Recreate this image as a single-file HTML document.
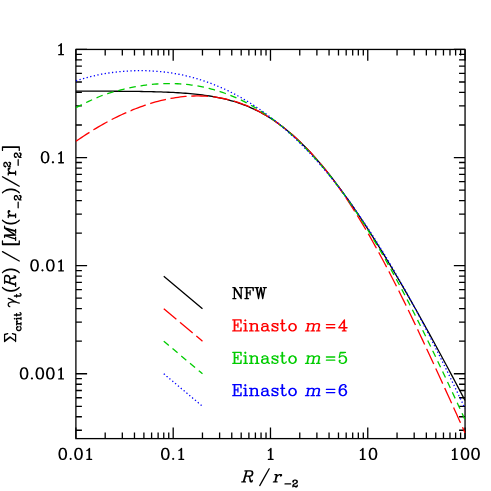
<!DOCTYPE html>
<html><head><meta charset="utf-8"><title>plot</title>
<style>
html,body{margin:0;padding:0;background:#fff;}
body{width:491px;height:491px;overflow:hidden;font-family:"Liberation Serif",serif;}
svg{display:block;}
.t{fill:none;stroke-linecap:round;stroke-linejoin:round;}
</style></head><body>
<svg width="491" height="491" viewBox="0 0 491 491">
<rect width="491" height="491" fill="#fff"/>
<defs><clipPath id="c"><rect x="75.30" y="48.85" width="390.35" height="390.36"/></clipPath></defs>
<path d="M75.90,438.61v-11.20M75.90,49.45v11.20M105.19,438.61v-6.00M105.19,49.45v6.00M122.32,438.61v-6.00M122.32,49.45v6.00M134.47,438.61v-6.00M134.47,49.45v6.00M143.90,438.61v-6.00M143.90,49.45v6.00M151.60,438.61v-6.00M151.60,49.45v6.00M158.12,438.61v-6.00M158.12,49.45v6.00M163.76,438.61v-6.00M163.76,49.45v6.00M168.74,438.61v-6.00M168.74,49.45v6.00M173.19,438.61v-11.20M173.19,49.45v11.20M202.47,438.61v-6.00M202.47,49.45v6.00M219.61,438.61v-6.00M219.61,49.45v6.00M231.76,438.61v-6.00M231.76,49.45v6.00M241.19,438.61v-6.00M241.19,49.45v6.00M248.89,438.61v-6.00M248.89,49.45v6.00M255.40,438.61v-6.00M255.40,49.45v6.00M261.05,438.61v-6.00M261.05,49.45v6.00M266.02,438.61v-6.00M266.02,49.45v6.00M270.48,438.61v-11.20M270.48,49.45v11.20M299.76,438.61v-6.00M299.76,49.45v6.00M316.89,438.61v-6.00M316.89,49.45v6.00M329.05,438.61v-6.00M329.05,49.45v6.00M338.48,438.61v-6.00M338.48,49.45v6.00M346.18,438.61v-6.00M346.18,49.45v6.00M352.69,438.61v-6.00M352.69,49.45v6.00M358.33,438.61v-6.00M358.33,49.45v6.00M363.31,438.61v-6.00M363.31,49.45v6.00M367.76,438.61v-11.20M367.76,49.45v11.20M397.05,438.61v-6.00M397.05,49.45v6.00M414.18,438.61v-6.00M414.18,49.45v6.00M426.34,438.61v-6.00M426.34,49.45v6.00M435.76,438.61v-6.00M435.76,49.45v6.00M443.47,438.61v-6.00M443.47,49.45v6.00M449.98,438.61v-6.00M449.98,49.45v6.00M455.62,438.61v-6.00M455.62,49.45v6.00M460.60,438.61v-6.00M460.60,49.45v6.00M465.05,438.61v-11.20M465.05,49.45v11.20M75.90,430.27h6.00M465.05,430.27h-6.00M75.90,416.77h6.00M465.05,416.77h-6.00M75.90,406.29h6.00M465.05,406.29h-6.00M75.90,397.73h6.00M465.05,397.73h-6.00M75.90,390.49h6.00M465.05,390.49h-6.00M75.90,384.23h6.00M465.05,384.23h-6.00M75.90,378.70h6.00M465.05,378.70h-6.00M75.90,373.75h11.20M465.05,373.75h-11.20M75.90,341.21h6.00M465.05,341.21h-6.00M75.90,322.17h6.00M465.05,322.17h-6.00M75.90,308.67h6.00M465.05,308.67h-6.00M75.90,298.19h6.00M465.05,298.19h-6.00M75.90,289.63h6.00M465.05,289.63h-6.00M75.90,282.39h6.00M465.05,282.39h-6.00M75.90,276.13h6.00M465.05,276.13h-6.00M75.90,270.60h6.00M465.05,270.60h-6.00M75.90,265.65h11.20M465.05,265.65h-11.20M75.90,233.11h6.00M465.05,233.11h-6.00M75.90,214.07h6.00M465.05,214.07h-6.00M75.90,200.57h6.00M465.05,200.57h-6.00M75.90,190.09h6.00M465.05,190.09h-6.00M75.90,181.53h6.00M465.05,181.53h-6.00M75.90,174.29h6.00M465.05,174.29h-6.00M75.90,168.03h6.00M465.05,168.03h-6.00M75.90,162.50h6.00M465.05,162.50h-6.00M75.90,157.55h11.20M465.05,157.55h-11.20M75.90,125.01h6.00M465.05,125.01h-6.00M75.90,105.97h6.00M465.05,105.97h-6.00M75.90,92.47h6.00M465.05,92.47h-6.00M75.90,81.99h6.00M465.05,81.99h-6.00M75.90,73.43h6.00M465.05,73.43h-6.00M75.90,66.19h6.00M465.05,66.19h-6.00M75.90,59.93h6.00M465.05,59.93h-6.00M75.90,54.40h6.00M465.05,54.40h-6.00M75.90,49.45h11.20M465.05,49.45h-11.20" fill="none" stroke="#000" stroke-width="1.30"/>
<rect x="75.90" y="49.45" width="389.15" height="389.16" fill="none" stroke="#000" stroke-width="1.30"/>
<g clip-path="url(#c)" fill="none" stroke-width="1.30">
<path d="M75.90,91.11 L78.33,91.11 L80.76,91.12 L83.20,91.12 L85.63,91.12 L88.06,91.13 L90.49,91.13 L92.93,91.14 L95.36,91.15 L97.79,91.15 L100.22,91.16 L102.65,91.17 L105.09,91.18 L107.52,91.19 L109.95,91.20 L112.38,91.21 L114.81,91.23 L117.25,91.24 L119.68,91.26 L122.11,91.28 L124.54,91.30 L126.98,91.32 L129.41,91.34 L131.84,91.37 L134.27,91.40 L136.70,91.43 L139.14,91.46 L141.57,91.50 L144.00,91.54 L146.43,91.59 L148.87,91.64 L151.30,91.69 L153.73,91.75 L156.16,91.82 L158.59,91.89 L161.03,91.97 L163.46,92.05 L165.89,92.14 L168.32,92.24 L170.76,92.35 L173.19,92.47 L175.62,92.60 L178.05,92.74 L180.48,92.89 L182.92,93.05 L185.35,93.23 L187.78,93.42 L190.21,93.63 L192.65,93.86 L195.08,94.10 L197.51,94.36 L199.94,94.64 L202.37,94.94 L204.81,95.27 L207.24,95.62 L209.67,95.99 L212.10,96.39 L214.53,96.82 L216.97,97.28 L219.40,97.77 L221.83,98.30 L224.26,98.86 L226.70,99.45 L229.13,100.09 L231.56,100.76 L233.99,101.47 L236.42,102.23 L238.86,103.04 L241.29,103.88 L243.72,104.78 L246.15,105.73 L248.59,106.73 L251.02,107.78 L253.45,108.88 L255.88,110.04 L258.31,111.26 L260.75,112.53 L263.18,113.87 L265.61,115.26 L268.04,116.72 L270.48,118.24 L272.91,119.82 L275.34,121.46 L277.77,123.17 L280.20,124.95 L282.64,126.79 L285.07,128.69 L287.50,130.66 L289.93,132.70 L292.36,134.80 L294.80,136.96 L297.23,139.20 L299.66,141.49 L302.09,143.85 L304.53,146.28 L306.96,148.77 L309.39,151.32 L311.82,153.94 L314.25,156.61 L316.69,159.35 L319.12,162.14 L321.55,165.00 L323.98,167.91 L326.42,170.88 L328.85,173.90 L331.28,176.98 L333.71,180.11 L336.14,183.30 L338.58,186.53 L341.01,189.82 L343.44,193.15 L345.87,196.53 L348.31,199.96 L350.74,203.43 L353.17,206.95 L355.60,210.51 L358.03,214.11 L360.47,217.76 L362.90,221.44 L365.33,225.16 L367.76,228.92 L370.19,232.72 L372.63,236.55 L375.06,240.41 L377.49,244.31 L379.92,248.24 L382.36,252.20 L384.79,256.20 L387.22,260.22 L389.65,264.27 L392.08,268.35 L394.52,272.46 L396.95,276.59 L399.38,280.75 L401.81,284.93 L404.25,289.14 L406.68,293.37 L409.11,297.63 L411.54,301.90 L413.97,306.20 L416.41,310.52 L418.84,314.86 L421.27,319.22 L423.70,323.59 L426.13,327.99 L428.57,332.40 L431.00,336.83 L433.43,341.28 L435.86,345.75 L438.30,350.23 L440.73,354.72 L443.16,359.24 L445.59,363.76 L448.02,368.30 L450.46,372.86 L452.89,377.43 L455.32,382.01 L457.75,386.60 L460.19,391.21 L462.62,395.83 L465.05,400.46" stroke="#000"/>
<path d="M75.90,141.30L76.51,140.89L78.94,139.23L81.37,137.60L83.80,136.00L86.24,134.41L88.67,132.85L89.47,132.35M93.44,129.87L93.53,129.81L95.97,128.33L98.40,126.87L100.83,125.44L103.26,124.06L105.69,122.73L107.52,121.75M111.67,119.58L111.77,119.52L114.21,118.29L116.64,117.09L119.07,115.91L121.50,114.76L123.94,113.64L126.32,112.58M130.61,110.73L130.62,110.73L133.06,109.72L135.49,108.75L137.92,107.81L140.35,106.90L142.79,106.03L145.22,105.19L145.79,104.99M150.24,103.55L150.69,103.41L153.12,102.68L155.55,101.98L157.99,101.32L160.42,100.70L162.85,100.11L165.28,99.56L165.92,99.41M170.50,98.50L170.76,98.45L173.19,98.02L175.62,97.63L178.05,97.27L180.48,96.96L182.92,96.69L185.35,96.46L186.57,96.36M191.27,96.08L191.43,96.07L193.86,95.98L196.29,95.94L198.73,95.94L201.16,95.99L203.59,96.08L206.02,96.22L208.00,96.36M212.80,96.84L213.32,96.90L215.75,97.22L218.18,97.59L220.62,98.01L223.05,98.48L225.48,98.99L227.91,99.56L229.25,99.89M233.89,101.16L233.99,101.19L236.42,101.94L238.86,102.73L241.29,103.59L243.72,104.49L246.15,105.45L248.59,106.47L249.59,106.91M253.97,108.91L254.06,108.96L256.49,110.15L258.92,111.41L261.35,112.72L263.79,114.09L266.22,115.52L268.60,116.98M272.65,119.58L272.91,119.75L275.34,121.41L277.77,123.12L280.20,124.90L282.64,126.74L285.07,128.65L286.09,129.48M289.80,132.53L289.93,132.65L292.36,134.74L294.80,136.90L297.23,139.13L299.66,141.42L302.09,143.78L302.10,143.79M305.49,147.19L305.74,147.45L308.17,149.97L310.61,152.56L313.04,155.22L315.47,157.94L316.79,159.44M319.90,163.09L320.33,163.60L322.77,166.53L325.20,169.53L327.63,172.59L330.06,175.73L330.33,176.07M333.22,179.89L333.71,180.55L336.14,183.85L338.58,187.23L341.01,190.67L342.91,193.42M345.61,197.37L345.87,197.75L348.31,201.40L350.74,205.11L353.17,208.88L354.70,211.31M357.24,215.36L357.43,215.65L359.86,219.61L362.29,223.63L364.72,227.71L365.84,229.60M368.25,233.73L368.37,233.94L370.80,238.18L373.23,242.47L375.67,246.82L376.43,248.20M378.73,252.39L379.32,253.46L381.75,257.95L384.18,262.49L386.61,267.09L386.64,267.14M388.87,271.41L389.04,271.74L391.48,276.44L393.91,281.18L396.34,285.97L396.51,286.31M398.67,290.61L398.77,290.81L401.21,295.68L403.64,300.60L406.07,305.56L406.10,305.61M408.21,309.94L408.50,310.55L410.93,315.58L413.37,320.64L415.46,325.02M417.53,329.37L417.62,329.57L420.05,334.71L422.49,339.88L424.65,344.50M426.69,348.86L426.74,348.98L429.18,354.21L431.61,359.46L433.72,364.03M435.74,368.41L435.86,368.68L438.30,373.98L440.73,379.29L442.70,383.61M444.70,387.99L444.98,388.61L447.42,393.95L449.85,399.29L451.63,403.21M453.61,407.59L454.11,408.67L456.54,414.04L458.97,419.41L460.51,422.82M462.49,427.21L462.62,427.48L465.05,432.87" stroke="#ff0000"/>
<path d="M75.90,107.63L76.51,107.31L78.94,106.07L81.37,104.86L81.79,104.65M86.14,102.54L86.24,102.49L88.67,101.35L91.10,100.23L92.12,99.77M96.54,97.81L96.57,97.80L99.01,96.76L101.44,95.75L102.64,95.30M107.23,93.79L107.52,93.70L109.95,92.95L112.38,92.22L113.55,91.88M118.20,90.59L118.46,90.52L120.90,89.89L123.33,89.29L124.60,88.98M129.32,87.92L129.41,87.90L131.84,87.40L134.27,86.92L135.79,86.65M140.55,85.84L140.96,85.78L143.39,85.42L145.83,85.09L147.09,84.93M151.89,84.40L151.91,84.40L154.34,84.18L156.77,83.99L158.47,83.88M163.29,83.65L163.46,83.65L165.89,83.58L168.32,83.55L169.89,83.56M174.72,83.64L175.01,83.65L177.44,83.75L179.88,83.89L181.31,83.99M186.12,84.41L186.56,84.45L189.00,84.72L191.43,85.03L192.68,85.20M197.45,85.96L197.51,85.97L199.94,86.41L202.37,86.89L203.92,87.22M208.63,88.32L209.06,88.42L211.49,89.05L213.93,89.72L215.00,90.03M219.62,91.45L220.01,91.58L222.44,92.39L224.87,93.25L225.85,93.61M230.36,95.35L230.95,95.58L233.38,96.59L235.82,97.64L236.44,97.92M240.82,99.95L241.29,100.17L243.72,101.37L246.15,102.61L246.72,102.91M250.97,105.21L251.02,105.24L253.45,106.62L255.88,108.05L256.67,108.53M260.78,111.07L261.35,111.44L263.79,113.03L266.22,114.66L266.28,114.71M270.24,117.47L270.48,117.63L272.91,119.40L275.34,121.22L275.56,121.39M279.37,124.35L279.60,124.53L282.03,126.49L284.46,128.50L284.49,128.52M288.16,131.65L288.72,132.14L291.15,134.29L293.09,136.04M296.63,139.33L297.23,139.89L299.66,142.23L301.39,143.93M304.82,147.37L305.13,147.69L307.57,150.20L309.43,152.16M312.74,155.72L313.04,156.05L315.47,158.74L317.19,160.66M320.38,164.33L320.94,164.98L323.38,167.85L324.67,169.40M327.76,173.16L328.24,173.75L330.67,176.78L331.91,178.34M334.90,182.18L334.93,182.22L337.36,185.41L338.91,187.47M341.81,191.37L342.22,191.94L344.66,195.30L345.70,196.75M348.51,200.72L348.91,201.30L351.35,204.80L352.29,206.18M355.02,210.19L355.60,211.06L358.03,214.72L358.69,215.72M361.35,219.79L361.68,220.31L364.11,224.10L364.93,225.38M367.51,229.49L367.76,229.88L370.19,233.81L371.00,235.13M373.53,239.28L373.84,239.80L376.28,243.86L376.94,244.97M379.41,249.15L379.92,250.04L382.36,254.22L382.74,254.89M385.16,259.10L385.40,259.53L387.83,263.82L388.42,264.88M390.79,269.11L390.87,269.26L393.30,273.66L393.99,274.92M396.31,279.18L396.34,279.23L398.77,283.74L399.46,285.02M401.74,289.30L401.81,289.43L404.25,294.04L404.84,295.17M407.08,299.47L407.29,299.86L409.72,304.56L410.13,305.36M412.35,309.68L412.76,310.49L415.19,315.28L415.35,315.59M417.53,319.93L417.62,320.10L420.05,324.96L420.50,325.86M422.66,330.20L423.09,331.09L425.53,336.02L425.59,336.15M427.72,340.51L427.96,340.99L430.39,345.99L430.62,346.47M432.74,350.84L432.82,351.02L435.26,356.08L435.61,356.81M437.70,361.19L438.30,362.43L440.55,367.17M442.63,371.56L443.16,372.68L445.46,377.55M447.52,381.94L448.02,383.02L450.33,387.95M452.38,392.35L452.89,393.45L455.17,398.36M457.21,402.76L457.75,403.93L459.99,408.78M462.02,413.18L462.62,414.48L464.79,419.21" stroke="#00cc00"/>
<path d="M75.90,80.78L76.51,80.59L77.14,80.40M79.45,79.71L79.55,79.68L80.69,79.34M83.01,78.68L83.20,78.63L84.26,78.33M86.58,77.70L86.84,77.63L87.84,77.37M90.17,76.77L90.49,76.68L91.43,76.45M93.76,75.88L94.14,75.80L95.03,75.58M97.37,75.05L97.79,74.95L98.64,74.77M100.99,74.27L101.44,74.17L102.27,74.01M104.64,73.62L105.09,73.54L105.93,73.41M108.30,73.05L108.73,72.99L109.59,72.87M111.97,72.55L112.38,72.49L113.26,72.38M115.65,72.10L116.03,72.06L116.94,71.95M119.34,71.71L119.68,71.67L120.63,71.59M123.03,71.38L123.33,71.35L124.32,71.27M126.72,71.10L126.98,71.09L128.02,71.03M130.42,70.90L130.62,70.89L131.72,70.84M134.12,70.75L134.27,70.74L135.42,70.72M137.83,70.67L137.92,70.67L139.13,70.65M141.53,70.65L141.57,70.65L142.83,70.66M145.24,70.70L145.83,70.71L146.54,70.73M148.94,70.81L149.47,70.84L150.24,70.87M152.64,71.00L153.12,71.03L153.94,71.07M156.34,71.24L156.77,71.28L157.63,71.35M160.03,71.56L160.42,71.60L161.32,71.69M163.71,71.95L164.07,71.99L165.00,72.10M167.39,72.41L167.72,72.45L168.68,72.58M171.06,72.93L171.36,72.98L172.34,73.13M174.71,73.52L175.01,73.58L175.99,73.75M178.36,74.19L178.66,74.25L179.63,74.44M181.99,74.92L182.31,74.99L183.26,75.19M185.61,75.72L185.96,75.80L186.87,76.02M189.21,76.59L189.60,76.69L190.47,76.91M192.79,77.53L193.25,77.65L194.05,77.87M196.36,78.54L196.90,78.69L197.61,78.90M199.91,79.60L199.94,79.62L201.14,80.00M203.43,80.75L203.59,80.80L204.66,81.16M206.93,81.95L207.24,82.05L208.16,82.39M210.41,83.22L210.89,83.40L211.63,83.68M213.87,84.55L213.93,84.57L215.08,85.03M217.31,85.94L217.57,86.06L218.50,86.45M220.71,87.40L221.22,87.62L221.90,87.92M224.09,88.91L224.26,88.99L225.27,89.46M227.45,90.49L227.91,90.71L228.62,91.06M230.77,92.12L230.95,92.21L231.93,92.71M234.07,93.81L234.60,94.09L235.22,94.42M237.34,95.55L237.64,95.72L238.48,96.17M240.58,97.35L240.68,97.40L241.71,97.99M243.79,99.19L244.33,99.51L244.91,99.86M246.97,101.09L247.37,101.33L248.08,101.77M250.13,103.04L250.41,103.22L251.23,103.73M253.25,105.03L253.45,105.16L254.34,105.75M256.34,107.08L256.49,107.18L257.42,107.80M259.40,109.16L259.53,109.25L260.47,109.90M262.43,111.29L262.57,111.39L263.49,112.05M265.44,113.46L265.61,113.59L266.48,114.24M268.41,115.68L268.65,115.86L269.44,116.46M271.35,117.93L271.69,118.20L272.37,118.73M274.26,120.22L274.73,120.59L275.28,121.03M277.14,122.55L277.16,122.56L278.15,123.37M280.00,124.91L280.20,125.08L280.99,125.75M282.82,127.31L283.24,127.67L283.81,128.16M285.62,129.74L285.68,129.79L286.59,130.60M288.39,132.20L288.72,132.50L289.35,133.07M291.12,134.70L291.15,134.72L292.08,135.58M293.84,137.22L294.19,137.55L294.78,138.11M296.52,139.77L296.62,139.87L297.46,140.67M299.18,142.35L299.66,142.82L300.11,143.27M301.81,144.96L302.09,145.24L302.73,145.88M304.42,147.59L304.53,147.70L305.32,148.53M307.00,150.25L307.57,150.85L307.89,151.20M309.55,152.94L310.00,153.42L310.44,153.89M312.08,155.65L312.43,156.03L312.96,156.60M314.58,158.38L314.86,158.68L315.46,159.34M317.07,161.13L317.29,161.39L317.93,162.10M319.52,163.90L319.73,164.14L320.38,164.88M321.96,166.70L322.16,166.93L322.80,167.68M324.37,169.51L324.59,169.77L325.21,170.50M326.76,172.34L327.02,172.66L327.59,173.34M329.12,175.19L329.46,175.60L329.95,176.20M331.47,178.06L331.89,178.58L332.28,179.07M333.79,180.94L334.32,181.61L334.60,181.96M336.10,183.85L336.14,183.91L336.90,184.87M338.38,186.76L338.58,187.02L339.17,187.79M340.64,189.70L341.01,190.17L341.43,190.73M342.88,192.65L343.44,193.38L343.67,193.68M345.11,195.61L345.26,195.82L345.89,196.65M347.31,198.59L347.70,199.11L348.09,199.63M349.50,201.58L349.52,201.60L350.27,202.63M351.67,204.58L351.95,204.97L352.43,205.64M353.82,207.60L354.39,208.39L354.57,208.66M355.96,210.62L356.21,210.98L356.70,211.69M358.08,213.66L358.64,214.48L358.81,214.73M360.18,216.72L360.47,217.13L360.91,217.79M362.26,219.78L362.29,219.82L362.99,220.86M364.33,222.85L364.72,223.44L365.05,223.93M366.38,225.94L366.55,226.18L367.10,227.02M368.42,229.03L368.98,229.88L369.13,230.12M370.45,232.13L370.80,232.68L371.15,233.22M372.46,235.25L372.63,235.51L373.16,236.34M374.45,238.37L375.06,239.32L375.15,239.46M376.43,241.50L376.88,242.21L377.13,242.60M378.40,244.64L378.71,245.13L379.09,245.74M380.36,247.79L380.53,248.07L381.04,248.89M382.30,250.94L382.36,251.03L382.97,252.05M384.23,254.10L384.79,255.03L384.90,255.22M386.14,257.28L386.61,258.06L386.81,258.39M388.05,260.45L388.44,261.11L388.71,261.57M389.94,263.64L390.26,264.18L390.60,264.76M391.82,266.83L392.08,267.28L392.48,267.95M393.69,270.03L393.91,270.41L394.34,271.15M395.55,273.23L395.73,273.56L396.20,274.36M397.40,276.45L397.56,276.73L398.04,277.57M399.23,279.66L399.38,279.92L399.88,280.79M401.06,282.89L401.21,283.14L401.70,284.02M402.88,286.12L403.03,286.39L403.51,287.25M404.68,289.35L404.85,289.65L405.32,290.49M406.48,292.59L406.68,292.94L407.11,293.73M408.27,295.83L408.50,296.26L408.90,296.97M410.05,299.08L410.33,299.59L410.67,300.23M411.82,302.34L412.15,302.95L412.44,303.48M413.58,305.60L413.97,306.32L414.20,306.74M415.33,308.86L415.80,309.73L415.95,310.01M417.08,312.13L417.62,313.15L417.69,313.28M418.82,315.40L418.84,315.44L419.42,316.55M420.55,318.68L420.66,318.90L421.15,319.83M422.27,321.96L422.49,322.38L422.87,323.11M423.98,325.24L424.31,325.88L424.58,326.40M425.69,328.53L426.13,329.39L426.29,329.69M427.39,331.83L427.96,332.93L427.98,332.98M429.08,335.12L429.18,335.30L429.67,336.28M430.77,338.42L431.00,338.87L431.36,339.58M432.45,341.72L432.82,342.46L433.04,342.88M434.12,345.03L434.65,346.07L434.71,346.19M435.79,348.33L435.86,348.48L436.37,349.50M437.45,351.65L437.69,352.12L438.04,352.81M439.11,354.96L439.51,355.77L439.69,356.12M440.76,358.28L441.34,359.44L441.34,359.44M442.40,361.60L442.55,361.89L442.98,362.76M444.04,364.92L444.38,365.59L444.62,366.09M445.68,368.24L446.20,369.30L446.25,369.41M447.31,371.57L447.42,371.79L447.88,372.74M448.94,374.90L449.24,375.53L449.50,376.07M450.56,378.23L451.06,379.28L451.12,379.40M452.17,381.57L452.28,381.79L452.74,382.74M453.78,384.90L454.11,385.57L454.35,386.07M455.39,388.24L455.93,389.36L455.96,389.41M457.00,391.58L457.15,391.89L457.56,392.75M458.60,394.92L458.97,395.71L459.16,396.09M460.19,398.27L460.75,399.44M461.78,401.61L462.01,402.09L462.34,402.78M463.37,404.96L463.83,405.93L463.93,406.13M464.96,408.31L465.05,408.50" stroke="#0000ff"/>
<path d="M163.76,276.13 L167.63,279.38 L171.50,282.63 L175.37,285.89 L179.25,289.14 L183.12,292.40 L186.99,295.65 L190.86,298.90 L194.73,302.16 L198.60,305.41 L202.47,308.67" stroke="#000"/>
<path d="M163.76,308.67L164.73,309.48L168.60,312.73L172.47,315.99L176.34,319.24L176.39,319.28M180.03,322.34L180.21,322.50L184.08,325.75L187.96,329.01L191.83,332.26L192.66,332.96M196.29,336.01L196.67,336.33L200.54,339.58L202.47,341.21" stroke="#ff0000"/>
<path d="M163.76,341.21L164.73,342.02L168.60,345.28L168.81,345.46M172.51,348.56L173.44,349.34L177.31,352.60L177.56,352.81M181.26,355.92L182.15,356.67L186.02,359.92L186.31,360.16M190.01,363.27L190.86,363.99L194.73,367.24L195.06,367.52M198.76,370.63L199.57,371.31L202.47,373.75" stroke="#00cc00"/>
<path d="M163.76,373.75L164.73,374.56L164.75,374.59M166.60,376.13L166.66,376.19L167.59,376.97M169.43,378.52L169.57,378.63L170.43,379.35M172.27,380.90L172.47,381.07L173.26,381.74M175.10,383.29L175.37,383.51L176.10,384.12M177.94,385.67L178.28,385.95L178.94,386.51M180.78,388.05L181.18,388.39L181.77,388.89M183.61,390.44L184.08,390.83L184.61,391.27M186.45,392.82L186.99,393.27L187.44,393.66M189.28,395.21L189.89,395.72L190.28,396.04M192.12,397.59L192.80,398.16L193.12,398.43M194.96,399.97L195.70,400.60L195.95,400.81M197.79,402.36L198.60,403.04L198.79,403.19M200.63,404.74L201.51,405.48L201.62,405.58" stroke="#0000ff"/>
</g>
<path class="t" transform="translate(57.51,459.40) scale(0.5250)" d="M9 -21l1 0l1 0l2 1l1 1l1 2l1 5l0 1l0 1l0 1l-1 5l-1 2l-1 1l-2 1l3 -1l2 -3l1 -5l0 -1l0 -1l0 -1l-1 -5l-2 -3l-3 -1M9 -21l-3 1l-2 3l-1 5l0 1l0 1l0 1l1 5l2 3l3 1l-2 -1l-1 -1l-1 -2l-1 -5l0 -1l0 -1l0 -1l1 -5l1 -2l1 -1l2 -1M9 0l1 0l1 0M39 -21l1 0l1 0l2 1l1 1l1 2l1 5l0 1l0 1l0 1l-1 5l-1 2l-1 1l-2 1l3 -1l2 -3l1 -5l0 -1l0 -1l0 -1l-1 -5l-2 -3l-3 -1M39 -21l-3 1l-2 3l-1 5l0 1l0 1l0 1l1 5l2 3l3 1l-2 -1l-1 -1l-1 -2l-1 -5l0 -1l0 -1l0 -1l1 -5l1 -2l1 -1l2 -1M39 0l1 0l1 0M56 -17l2 -1l1 -1l1 -1l1 -1l0 1l0 1l0 1l0 1l0 1l0 1l0 1l0 1l0 1l0 1l0 1l0 1l0 1l0 1l0 1l0 1l0 1l0 1l0 1l0 1l0 1l-1 0l0 -1l0 -1l0 -1l0 -1l0 -1l0 -1l0 -1l0 -1l0 -1l0 -1l0 -1l0 -1l0 -1l0 -1l0 -1l0 -1l0 -1l0 -1l0 -1l0 -1M56 0l1 0l1 0l1 0l1 0M61 0l1 0l1 0l1 0l1 0M24 -1l1 -1l1 1l-1 1l-1 -1" stroke="#000" stroke-width="2.381"/>
<path class="t" transform="translate(160.05,459.40) scale(0.5250)" d="M9 -21l1 0l1 0l2 1l1 1l1 2l1 5l0 1l0 1l0 1l-1 5l-1 2l-1 1l-2 1l3 -1l2 -3l1 -5l0 -1l0 -1l0 -1l-1 -5l-2 -3l-3 -1M9 -21l-3 1l-2 3l-1 5l0 1l0 1l0 1l1 5l2 3l3 1l-2 -1l-1 -1l-1 -2l-1 -5l0 -1l0 -1l0 -1l1 -5l1 -2l1 -1l2 -1M9 0l1 0l1 0M36 -17l2 -1l1 -1l1 -1l1 -1l0 1l0 1l0 1l0 1l0 1l0 1l0 1l0 1l0 1l0 1l0 1l0 1l0 1l0 1l0 1l0 1l0 1l0 1l0 1l0 1l0 1l-1 0l0 -1l0 -1l0 -1l0 -1l0 -1l0 -1l0 -1l0 -1l0 -1l0 -1l0 -1l0 -1l0 -1l0 -1l0 -1l0 -1l0 -1l0 -1l0 -1l0 -1M36 0l1 0l1 0l1 0l1 0M41 0l1 0l1 0l1 0l1 0M24 -1l1 -1l1 1l-1 1l-1 -1" stroke="#000" stroke-width="2.381"/>
<path class="t" transform="translate(265.21,459.40) scale(0.5250)" d="M6 -17l2 -1l1 -1l1 -1l1 -1l0 1l0 1l0 1l0 1l0 1l0 1l0 1l0 1l0 1l0 1l0 1l0 1l0 1l0 1l0 1l0 1l0 1l0 1l0 1l0 1l0 1l-1 0l0 -1l0 -1l0 -1l0 -1l0 -1l0 -1l0 -1l0 -1l0 -1l0 -1l0 -1l0 -1l0 -1l0 -1l0 -1l0 -1l0 -1l0 -1l0 -1l0 -1M6 0l1 0l1 0l1 0l1 0M11 0l1 0l1 0l1 0l1 0" stroke="#000" stroke-width="2.381"/>
<path class="t" transform="translate(357.25,459.40) scale(0.5250)" d="M6 -17l2 -1l1 -1l1 -1l1 -1l0 1l0 1l0 1l0 1l0 1l0 1l0 1l0 1l0 1l0 1l0 1l0 1l0 1l0 1l0 1l0 1l0 1l0 1l0 1l0 1l0 1l-1 0l0 -1l0 -1l0 -1l0 -1l0 -1l0 -1l0 -1l0 -1l0 -1l0 -1l0 -1l0 -1l0 -1l0 -1l0 -1l0 -1l0 -1l0 -1l0 -1l0 -1M6 0l1 0l1 0l1 0l1 0M11 0l1 0l1 0l1 0l1 0M29 -21l1 0l1 0l2 1l1 1l1 2l1 5l0 1l0 1l0 1l-1 5l-1 2l-1 1l-2 1l3 -1l2 -3l1 -5l0 -1l0 -1l0 -1l-1 -5l-2 -3l-3 -1M29 -21l-3 1l-2 3l-1 5l0 1l0 1l0 1l1 5l2 3l3 1l-2 -1l-1 -1l-1 -2l-1 -5l0 -1l0 -1l0 -1l1 -5l1 -2l1 -1l2 -1M29 0l1 0l1 0" stroke="#000" stroke-width="2.381"/>
<path class="t" transform="translate(449.29,459.40) scale(0.5250)" d="M6 -17l2 -1l1 -1l1 -1l1 -1l0 1l0 1l0 1l0 1l0 1l0 1l0 1l0 1l0 1l0 1l0 1l0 1l0 1l0 1l0 1l0 1l0 1l0 1l0 1l0 1l0 1l-1 0l0 -1l0 -1l0 -1l0 -1l0 -1l0 -1l0 -1l0 -1l0 -1l0 -1l0 -1l0 -1l0 -1l0 -1l0 -1l0 -1l0 -1l0 -1l0 -1l0 -1M6 0l1 0l1 0l1 0l1 0M11 0l1 0l1 0l1 0l1 0M29 -21l1 0l1 0l2 1l1 1l1 2l1 5l0 1l0 1l0 1l-1 5l-1 2l-1 1l-2 1l3 -1l2 -3l1 -5l0 -1l0 -1l0 -1l-1 -5l-2 -3l-3 -1M29 -21l-3 1l-2 3l-1 5l0 1l0 1l0 1l1 5l2 3l3 1l-2 -1l-1 -1l-1 -2l-1 -5l0 -1l0 -1l0 -1l1 -5l1 -2l1 -1l2 -1M29 0l1 0l1 0M49 -21l1 0l1 0l2 1l1 1l1 2l1 5l0 1l0 1l0 1l-1 5l-1 2l-1 1l-2 1l3 -1l2 -3l1 -5l0 -1l0 -1l0 -1l-1 -5l-2 -3l-3 -1M49 -21l-3 1l-2 3l-1 5l0 1l0 1l0 1l1 5l2 3l3 1l-2 -1l-1 -1l-1 -2l-1 -5l0 -1l0 -1l0 -1l1 -5l1 -2l1 -1l2 -1M49 0l1 0l1 0" stroke="#000" stroke-width="2.381"/>
<path class="t" transform="translate(55.58,54.65) scale(0.5250)" d="M6 -17l2 -1l1 -1l1 -1l1 -1l0 1l0 1l0 1l0 1l0 1l0 1l0 1l0 1l0 1l0 1l0 1l0 1l0 1l0 1l0 1l0 1l0 1l0 1l0 1l0 1l0 1l-1 0l0 -1l0 -1l0 -1l0 -1l0 -1l0 -1l0 -1l0 -1l0 -1l0 -1l0 -1l0 -1l0 -1l0 -1l0 -1l0 -1l0 -1l0 -1l0 -1l0 -1M6 0l1 0l1 0l1 0l1 0M11 0l1 0l1 0l1 0l1 0" stroke="#000" stroke-width="2.381"/>
<path class="t" transform="translate(39.83,162.75) scale(0.5250)" d="M9 -21l1 0l1 0l2 1l1 1l1 2l1 5l0 1l0 1l0 1l-1 5l-1 2l-1 1l-2 1l3 -1l2 -3l1 -5l0 -1l0 -1l0 -1l-1 -5l-2 -3l-3 -1M9 -21l-3 1l-2 3l-1 5l0 1l0 1l0 1l1 5l2 3l3 1l-2 -1l-1 -1l-1 -2l-1 -5l0 -1l0 -1l0 -1l1 -5l1 -2l1 -1l2 -1M9 0l1 0l1 0M36 -17l2 -1l1 -1l1 -1l1 -1l0 1l0 1l0 1l0 1l0 1l0 1l0 1l0 1l0 1l0 1l0 1l0 1l0 1l0 1l0 1l0 1l0 1l0 1l0 1l0 1l0 1l-1 0l0 -1l0 -1l0 -1l0 -1l0 -1l0 -1l0 -1l0 -1l0 -1l0 -1l0 -1l0 -1l0 -1l0 -1l0 -1l0 -1l0 -1l0 -1l0 -1l0 -1M36 0l1 0l1 0l1 0l1 0M41 0l1 0l1 0l1 0l1 0M24 -1l1 -1l1 1l-1 1l-1 -1" stroke="#000" stroke-width="2.381"/>
<path class="t" transform="translate(29.33,270.85) scale(0.5250)" d="M9 -21l1 0l1 0l2 1l1 1l1 2l1 5l0 1l0 1l0 1l-1 5l-1 2l-1 1l-2 1l3 -1l2 -3l1 -5l0 -1l0 -1l0 -1l-1 -5l-2 -3l-3 -1M9 -21l-3 1l-2 3l-1 5l0 1l0 1l0 1l1 5l2 3l3 1l-2 -1l-1 -1l-1 -2l-1 -5l0 -1l0 -1l0 -1l1 -5l1 -2l1 -1l2 -1M9 0l1 0l1 0M39 -21l1 0l1 0l2 1l1 1l1 2l1 5l0 1l0 1l0 1l-1 5l-1 2l-1 1l-2 1l3 -1l2 -3l1 -5l0 -1l0 -1l0 -1l-1 -5l-2 -3l-3 -1M39 -21l-3 1l-2 3l-1 5l0 1l0 1l0 1l1 5l2 3l3 1l-2 -1l-1 -1l-1 -2l-1 -5l0 -1l0 -1l0 -1l1 -5l1 -2l1 -1l2 -1M39 0l1 0l1 0M56 -17l2 -1l1 -1l1 -1l1 -1l0 1l0 1l0 1l0 1l0 1l0 1l0 1l0 1l0 1l0 1l0 1l0 1l0 1l0 1l0 1l0 1l0 1l0 1l0 1l0 1l0 1l-1 0l0 -1l0 -1l0 -1l0 -1l0 -1l0 -1l0 -1l0 -1l0 -1l0 -1l0 -1l0 -1l0 -1l0 -1l0 -1l0 -1l0 -1l0 -1l0 -1l0 -1M56 0l1 0l1 0l1 0l1 0M61 0l1 0l1 0l1 0l1 0M24 -1l1 -1l1 1l-1 1l-1 -1" stroke="#000" stroke-width="2.381"/>
<path class="t" transform="translate(18.83,378.95) scale(0.5250)" d="M9 -21l1 0l1 0l2 1l1 1l1 2l1 5l0 1l0 1l0 1l-1 5l-1 2l-1 1l-2 1l3 -1l2 -3l1 -5l0 -1l0 -1l0 -1l-1 -5l-2 -3l-3 -1M9 -21l-3 1l-2 3l-1 5l0 1l0 1l0 1l1 5l2 3l3 1l-2 -1l-1 -1l-1 -2l-1 -5l0 -1l0 -1l0 -1l1 -5l1 -2l1 -1l2 -1M9 0l1 0l1 0M39 -21l1 0l1 0l2 1l1 1l1 2l1 5l0 1l0 1l0 1l-1 5l-1 2l-1 1l-2 1l3 -1l2 -3l1 -5l0 -1l0 -1l0 -1l-1 -5l-2 -3l-3 -1M39 -21l-3 1l-2 3l-1 5l0 1l0 1l0 1l1 5l2 3l3 1l-2 -1l-1 -1l-1 -2l-1 -5l0 -1l0 -1l0 -1l1 -5l1 -2l1 -1l2 -1M39 0l1 0l1 0M59 -21l1 0l1 0l2 1l1 1l1 2l1 5l0 1l0 1l0 1l-1 5l-1 2l-1 1l-2 1l3 -1l2 -3l1 -5l0 -1l0 -1l0 -1l-1 -5l-2 -3l-3 -1M59 -21l-3 1l-2 3l-1 5l0 1l0 1l0 1l1 5l2 3l3 1l-2 -1l-1 -1l-1 -2l-1 -5l0 -1l0 -1l0 -1l1 -5l1 -2l1 -1l2 -1M59 0l1 0l1 0M76 -17l2 -1l1 -1l1 -1l1 -1l0 1l0 1l0 1l0 1l0 1l0 1l0 1l0 1l0 1l0 1l0 1l0 1l0 1l0 1l0 1l0 1l0 1l0 1l0 1l0 1l0 1l-1 0l0 -1l0 -1l0 -1l0 -1l0 -1l0 -1l0 -1l0 -1l0 -1l0 -1l0 -1l0 -1l0 -1l0 -1l0 -1l0 -1l0 -1l0 -1l0 -1l0 -1M76 0l1 0l1 0l1 0l1 0M81 0l1 0l1 0l1 0l1 0M24 -1l1 -1l1 1l-1 1l-1 -1" stroke="#000" stroke-width="2.381"/>
<path class="t" transform="translate(241.75,481.90) scale(0.5250)" d="M0 0l1 0l1 0l1 0l2 -7l2 -7l2 -7l-1 0l-1 0l-1 0M3 0l1 0l2 -7l2 -7l2 -7l-1 0M4 0l1 0l1 0l1 0M7 -11l1 0l1 0l1 0l1 0l1 0l1 0l1 0l1 0l1 0l2 -1l1 -1l1 -3l0 -1l0 -1l-1 -2l-2 -1l-1 0l-1 0l-1 0l-1 0l-1 0l-1 0l-1 0M12 -11l2 1l1 1l2 7l1 1l1 0l1 -1l0 -1M15 -9l1 8l1 1l1 0l1 0l1 -2M16 -11l3 -1l1 -1l1 -3l0 -1l0 -1l-1 -2l-3 -1" stroke="#000" stroke-width="2.381"/>
<path class="t" transform="translate(258.70,481.90) scale(0.5250)" d="M2 7l14 -25l4 -7l-5 9l1 -2l-5 9l9 -16l-13 23l9 -16M2 7l13 -23l-4 7l-4 7l-1 2l14 -25M2 7l9 -16l-5 9l9 -16M2 7l5 -9M2 7l4 -7" stroke="#000" stroke-width="2.381"/>
<path class="t" transform="matrix(0.5250,0,-0.1050,0.5250,272.35,481.90)" d="M2 -14l1 0l1 0l1 0l1 0l0 1l0 1l0 1l0 1l0 1l0 1l1 -3l1 -1l1 -1l2 -1l1 0l1 0l1 0l1 1l0 1l-1 1l-1 -1l1 -1M2 0l1 0l1 0l1 0l0 -1l0 -1l0 -1l0 -1l0 -1l0 -1l0 -1l0 -1l0 -1l0 -1l0 -1l0 -1l0 -1l0 -1M5 0l1 0l0 -1l0 -1l0 -1l0 -1l0 -1l0 -1l0 -1l0 -1M6 0l1 0l1 0l1 0" stroke="#000" stroke-width="2.381"/>
<path class="t" transform="translate(283.74,486.80) scale(0.3150)" d="M4 -9l1 0l1 0l1 0l1 0l1 0l1 0l1 0l1 0l1 0l1 0l1 0l1 0l1 0l1 0l1 0l1 0l1 0l1 0M29 -2l0 -1l1 -3l1 -1l1 -1l2 -1l5 -2l3 -2l1 -2l0 -1l0 -1l-1 -2l-1 -1l-3 -1l-1 0l-1 0l-1 0l-1 0l-3 1l-1 1l-1 2l0 1l1 1l1 -1l-1 -1M29 -2l1 -1l1 0l1 0l5 2l1 0l1 0l1 0l2 -1l1 -1l0 -1l0 -1M29 -2l0 1l0 1M32 -3l5 3l1 0l1 0l1 0l1 0l1 -1l1 -2M34 -9l2 -1l2 -1l3 -2l1 -2l0 -1l0 -1l-1 -2l-1 -1l-2 -1" stroke="#000" stroke-width="3.968"/>
<path class="t" transform="translate(231.75,298.60) scale(0.5250)" d="M2 -21l1 0l1 0l1 0l1 0l5 8l2 3l-7 -11l12 19l-7 -11M2 0l1 0l1 0l1 0l0 -1l0 -1l0 -1l0 -1l0 -1l0 -1l0 -1l0 -1l0 -1l0 -1l0 -1l0 -1l0 -1l0 -1l0 -1l0 -1l0 -1l0 -1l0 -1l0 -1l0 -1M5 0l1 0l1 0l1 0M6 -19l5 8l2 3l-7 -11l12 19l-7 -11M13 -10l5 8l0 -1l0 -1l0 -1l0 -1l0 -1l0 -1l0 -1l0 -1l0 -1l0 -1l0 -1l0 -1l0 -1l0 -1l0 -1l0 -1l0 -1l0 -1l0 -1l-1 0l-1 0l-1 0M13 -8l5 8l0 -1l0 -1M18 -21l1 0l1 0l1 0M25 -21l1 0l1 0l1 0l1 0l1 0l1 0l1 0l1 0l1 0l1 0l1 0l1 0l1 0l1 0l1 0l1 0l0 1l0 1l0 1l0 1l0 1l0 1l-1 -6M25 0l1 0l1 0l1 0l0 -1l0 -1l0 -1l0 -1l0 -1l0 -1l0 -1l0 -1l0 -1l0 -1l0 -1l0 -1l0 -1l0 -1l0 -1l0 -1l0 -1l0 -1l0 -1l0 -1l0 -1M28 0l1 0l0 -1l0 -1l0 -1l0 -1l0 -1l0 -1l0 -1l0 -1l0 -1l0 -1l0 -1l0 -1l0 -1l0 -1l0 -1l0 -1l0 -1l0 -1l0 -1l0 -1l0 -1M29 -11l1 0l1 0l1 0l1 0l1 0l1 0l0 -1l0 -1l0 -1l0 -1M29 0l1 0l1 0l1 0M35 -11l0 1l0 1l0 1l0 1M44 -21l1 0l1 0l1 0l1 0l1 0l1 0l1 0M47 -21l1 5l2 11l-3 -16l4 21l4 -21l-1 5l-2 11l3 -16l1 5l2 11l-3 -16l4 21l4 -21l-1 0l-1 0l-1 0M48 -21l3 16M48 -16l3 16l3 -16M50 -5l1 5l1 -5M56 -21l3 16M56 -16l3 16l3 -16l1 -5l1 0l1 0l1 0M58 -5l1 5l1 -5l3 -16M60 -5l2 -11" stroke="#000" stroke-width="2.381"/>
<path class="t" transform="translate(231.65,330.90) scale(0.5250)" d="M2 -21l1 0l1 0l1 0l1 0l1 0l1 0l1 0l1 0l1 0l1 0l1 0l1 0l1 0l1 0l1 0l1 0l0 1l0 1l0 1l0 1l0 1l0 1l-1 -6M2 0l1 0l1 0l1 0l0 -1l0 -1l0 -1l0 -1l0 -1l0 -1l0 -1l0 -1l0 -1l0 -1l0 -1l0 -1l0 -1l0 -1l0 -1l0 -1l0 -1l0 -1l0 -1l0 -1l0 -1M5 0l1 0l0 -1l0 -1l0 -1l0 -1l0 -1l0 -1l0 -1l0 -1l0 -1l0 -1l0 -1l0 -1l0 -1l0 -1l0 -1l0 -1l0 -1l0 -1l0 -1l0 -1l0 -1M6 -11l1 0l1 0l1 0l1 0l1 0l1 0l0 -1l0 -1l0 -1l0 -1M6 0l1 0l1 0l1 0l1 0l1 0l1 0l1 0l1 0l1 0l1 0l1 0l1 -6l0 1l0 1l0 1l0 1l0 1l0 1l-1 0M12 -11l0 1l0 1l0 1l0 1M23 -14l1 0l1 0l1 0l1 0l0 1l0 1l0 1l0 1l0 1l0 1l0 1l0 1l0 1l0 1l0 1l0 1l0 1l0 1l-1 0l0 -1l0 -1l0 -1l0 -1l0 -1l0 -1l0 -1l0 -1l0 -1l0 -1l0 -1l0 -1l0 -1l0 -1M23 0l1 0l1 0l1 0M27 0l1 0l1 0l1 0M34 -14l1 0l1 0l1 0l1 0l0 1l0 1l0 1l1 -1l1 -1l3 -1l1 0l1 0l2 1l1 2l0 1l0 1l0 1l0 1l0 1l0 1l0 1l0 1l0 1l0 1l0 1l-1 0l-1 0l-1 0M34 0l1 0l1 0l1 0l0 -1l0 -1l0 -1l0 -1l0 -1l0 -1l0 -1l0 -1l0 -1l0 -1l0 -1l0 -1l0 -1l0 -1M37 0l1 0l0 -1l0 -1l0 -1l0 -1l0 -1l0 -1l0 -1l0 -1l0 -1l0 -1l0 -1M38 0l1 0l1 0l1 0M45 -14l3 1l1 2l0 1l0 1l0 1l0 1l0 1l0 1l0 1l0 1l0 1l0 1l0 1l-1 0M49 0l1 0l1 0l1 0M59 -12l0 1l-1 0l0 -1l1 -1l2 -1l1 0l1 0l1 0l1 0l2 1l1 1l0 1l0 1l-1 1l-6 1l-3 1l-1 2l0 1l0 1l1 2l3 1l-2 -1l-1 -2l0 -1l0 -1l1 -2l2 -1M61 0l1 0l1 0l1 0l2 -1l1 -1l1 -1l0 -1l0 -1l0 -1l0 -1l0 -1l0 -1l0 -1M68 -12l1 2l0 1l0 1l0 1l0 1l0 1l0 1l0 1l1 2l1 1l-2 -1l-1 -2M71 0l1 0M77 -11l0 -1l1 -1l2 -1l1 0l1 0l1 0l1 0l2 1l1 1l1 -2l0 1l0 1l0 1l0 1l-1 -2M77 -11l0 1l1 1l2 1l5 2l2 1l1 1l0 -1l-1 -1l-2 -1l-5 -2l-2 -1l-1 -1M78 -2l-1 -2l0 1l0 1l0 1l0 1l1 -2l1 1l2 1l1 0l1 0l1 0l1 0l2 -1l1 -1l0 -1l0 -1M93 -14l1 0l1 0l1 0l0 -1l0 -1l0 -1l0 -1l0 -1l0 -1l0 -1M97 -21l0 1l0 1l0 1l0 1l0 1l0 1l0 1l-1 0l0 1l0 1l0 1l0 1l0 1l0 1l0 1l0 1l0 1l0 1l1 3l2 1l-1 -1l-1 -3l0 -1l0 -1l0 -1l0 -1l0 -1l0 -1l0 -1l0 -1l0 -1l0 -1l1 0l1 0l1 0l1 0M99 0l1 0l1 0l2 -1l1 -2M115 -14l1 0l1 0l2 1l1 1l1 1l1 3l0 1l0 1l-1 3l-1 1l-1 1l-2 1l3 -1l1 -1l1 -1l1 -3l0 -1l0 -1l-1 -3l-1 -1l-1 -1l-3 -1M115 -14l-3 1l-1 1l-1 1l-1 3l0 1l0 1l1 3l1 1l1 1l3 1l-2 -1l-1 -1l-1 -1l-1 -3l0 -1l0 -1l1 -3l1 -1l1 -1l2 -1M115 0l1 0l1 0M25 -20l1 -1l1 1l-1 1l-1 -1" stroke="#ff0000" stroke-width="2.381"/>
<path class="t" transform="matrix(0.4987,0,-0.1050,0.5250,304.46,330.90)" d="M2 -14l1 0l1 0l1 0l1 0l0 1l0 1l0 1l1 -1l1 -1l3 -1l1 0l1 0l2 1l1 2l0 1l0 1l0 1l0 1l0 1l0 1l0 1l0 1l0 1l0 1l0 1l-1 0l-1 0l-1 0M2 0l1 0l1 0l1 0l0 -1l0 -1l0 -1l0 -1l0 -1l0 -1l0 -1l0 -1l0 -1l0 -1l0 -1l0 -1l0 -1l0 -1M5 0l1 0l0 -1l0 -1l0 -1l0 -1l0 -1l0 -1l0 -1l0 -1l0 -1l0 -1l0 -1M6 0l1 0l1 0l1 0M13 -14l3 1l1 2l1 -1l1 -1l3 -1l1 0l1 0l2 1l1 2l0 1l0 1l0 1l0 1l0 1l0 1l0 1l0 1l0 1l0 1l0 1l-1 0l-1 0l-1 0M16 0l1 0l0 -1l0 -1l0 -1l0 -1l0 -1l0 -1l0 -1l0 -1l0 -1l0 -1l0 -1M17 0l1 0l1 0l1 0M24 -14l3 1l1 2l0 1l0 1l0 1l0 1l0 1l0 1l0 1l0 1l0 1l0 1l0 1l-1 0M28 0l1 0l1 0l1 0" stroke="#ff0000" stroke-width="2.381"/>
<path class="t" transform="translate(326.40,330.90) scale(0.5250)" d="M0 -12l16 0M0 -6l16 0" stroke="#ff0000" stroke-width="2.381"/>
<path class="t" transform="translate(337.65,330.90) scale(0.5250)" d="M5 -10l8 -11l0 1l0 1l0 1l0 1l0 1l0 1l0 1l0 1l0 1l0 1l0 1l0 1l0 1l0 1l0 1l-1 0l0 -1l0 -1l0 -1l0 -1l0 -1l0 -1l0 -1l0 -1l0 -1l0 -1l0 -1l0 -1l0 -1M5 -10l5 -7l3 -4l-11 15l8 -11M5 -10l-3 4l1 0l1 0l1 0l1 0l1 0l1 0l1 0l1 0l1 0l1 0l0 1l0 1l0 1l0 1l0 1l0 1l-1 0l-1 0l-1 0M12 0l1 0l0 -1l0 -1l0 -1l0 -1l0 -1l0 -1l1 0l1 0l1 0l1 0l1 0M13 0l1 0l1 0l1 0" stroke="#ff0000" stroke-width="2.381"/>
<path class="t" transform="translate(231.65,363.30) scale(0.5250)" d="M2 -21l1 0l1 0l1 0l1 0l1 0l1 0l1 0l1 0l1 0l1 0l1 0l1 0l1 0l1 0l1 0l1 0l0 1l0 1l0 1l0 1l0 1l0 1l-1 -6M2 0l1 0l1 0l1 0l0 -1l0 -1l0 -1l0 -1l0 -1l0 -1l0 -1l0 -1l0 -1l0 -1l0 -1l0 -1l0 -1l0 -1l0 -1l0 -1l0 -1l0 -1l0 -1l0 -1l0 -1M5 0l1 0l0 -1l0 -1l0 -1l0 -1l0 -1l0 -1l0 -1l0 -1l0 -1l0 -1l0 -1l0 -1l0 -1l0 -1l0 -1l0 -1l0 -1l0 -1l0 -1l0 -1l0 -1M6 -11l1 0l1 0l1 0l1 0l1 0l1 0l0 -1l0 -1l0 -1l0 -1M6 0l1 0l1 0l1 0l1 0l1 0l1 0l1 0l1 0l1 0l1 0l1 0l1 -6l0 1l0 1l0 1l0 1l0 1l0 1l-1 0M12 -11l0 1l0 1l0 1l0 1M23 -14l1 0l1 0l1 0l1 0l0 1l0 1l0 1l0 1l0 1l0 1l0 1l0 1l0 1l0 1l0 1l0 1l0 1l0 1l-1 0l0 -1l0 -1l0 -1l0 -1l0 -1l0 -1l0 -1l0 -1l0 -1l0 -1l0 -1l0 -1l0 -1l0 -1M23 0l1 0l1 0l1 0M27 0l1 0l1 0l1 0M34 -14l1 0l1 0l1 0l1 0l0 1l0 1l0 1l1 -1l1 -1l3 -1l1 0l1 0l2 1l1 2l0 1l0 1l0 1l0 1l0 1l0 1l0 1l0 1l0 1l0 1l0 1l-1 0l-1 0l-1 0M34 0l1 0l1 0l1 0l0 -1l0 -1l0 -1l0 -1l0 -1l0 -1l0 -1l0 -1l0 -1l0 -1l0 -1l0 -1l0 -1l0 -1M37 0l1 0l0 -1l0 -1l0 -1l0 -1l0 -1l0 -1l0 -1l0 -1l0 -1l0 -1l0 -1M38 0l1 0l1 0l1 0M45 -14l3 1l1 2l0 1l0 1l0 1l0 1l0 1l0 1l0 1l0 1l0 1l0 1l0 1l-1 0M49 0l1 0l1 0l1 0M59 -12l0 1l-1 0l0 -1l1 -1l2 -1l1 0l1 0l1 0l1 0l2 1l1 1l0 1l0 1l-1 1l-6 1l-3 1l-1 2l0 1l0 1l1 2l3 1l-2 -1l-1 -2l0 -1l0 -1l1 -2l2 -1M61 0l1 0l1 0l1 0l2 -1l1 -1l1 -1l0 -1l0 -1l0 -1l0 -1l0 -1l0 -1l0 -1M68 -12l1 2l0 1l0 1l0 1l0 1l0 1l0 1l0 1l1 2l1 1l-2 -1l-1 -2M71 0l1 0M77 -11l0 -1l1 -1l2 -1l1 0l1 0l1 0l1 0l2 1l1 1l1 -2l0 1l0 1l0 1l0 1l-1 -2M77 -11l0 1l1 1l2 1l5 2l2 1l1 1l0 -1l-1 -1l-2 -1l-5 -2l-2 -1l-1 -1M78 -2l-1 -2l0 1l0 1l0 1l0 1l1 -2l1 1l2 1l1 0l1 0l1 0l1 0l2 -1l1 -1l0 -1l0 -1M93 -14l1 0l1 0l1 0l0 -1l0 -1l0 -1l0 -1l0 -1l0 -1l0 -1M97 -21l0 1l0 1l0 1l0 1l0 1l0 1l0 1l-1 0l0 1l0 1l0 1l0 1l0 1l0 1l0 1l0 1l0 1l0 1l1 3l2 1l-1 -1l-1 -3l0 -1l0 -1l0 -1l0 -1l0 -1l0 -1l0 -1l0 -1l0 -1l0 -1l1 0l1 0l1 0l1 0M99 0l1 0l1 0l2 -1l1 -2M115 -14l1 0l1 0l2 1l1 1l1 1l1 3l0 1l0 1l-1 3l-1 1l-1 1l-2 1l3 -1l1 -1l1 -1l1 -3l0 -1l0 -1l-1 -3l-1 -1l-1 -1l-3 -1M115 -14l-3 1l-1 1l-1 1l-1 3l0 1l0 1l1 3l1 1l1 1l3 1l-2 -1l-1 -1l-1 -1l-1 -3l0 -1l0 -1l1 -3l1 -1l1 -1l2 -1M115 0l1 0l1 0M25 -20l1 -1l1 1l-1 1l-1 -1" stroke="#00cc00" stroke-width="2.381"/>
<path class="t" transform="matrix(0.4987,0,-0.1050,0.5250,304.46,363.30)" d="M2 -14l1 0l1 0l1 0l1 0l0 1l0 1l0 1l1 -1l1 -1l3 -1l1 0l1 0l2 1l1 2l0 1l0 1l0 1l0 1l0 1l0 1l0 1l0 1l0 1l0 1l0 1l-1 0l-1 0l-1 0M2 0l1 0l1 0l1 0l0 -1l0 -1l0 -1l0 -1l0 -1l0 -1l0 -1l0 -1l0 -1l0 -1l0 -1l0 -1l0 -1l0 -1M5 0l1 0l0 -1l0 -1l0 -1l0 -1l0 -1l0 -1l0 -1l0 -1l0 -1l0 -1l0 -1M6 0l1 0l1 0l1 0M13 -14l3 1l1 2l1 -1l1 -1l3 -1l1 0l1 0l2 1l1 2l0 1l0 1l0 1l0 1l0 1l0 1l0 1l0 1l0 1l0 1l0 1l-1 0l-1 0l-1 0M16 0l1 0l0 -1l0 -1l0 -1l0 -1l0 -1l0 -1l0 -1l0 -1l0 -1l0 -1l0 -1M17 0l1 0l1 0l1 0M24 -14l3 1l1 2l0 1l0 1l0 1l0 1l0 1l0 1l0 1l0 1l0 1l0 1l0 1l-1 0M28 0l1 0l1 0l1 0" stroke="#00cc00" stroke-width="2.381"/>
<path class="t" transform="translate(326.40,363.30) scale(0.5250)" d="M0 -12l16 0M0 -6l16 0" stroke="#00cc00" stroke-width="2.381"/>
<path class="t" transform="translate(337.65,363.30) scale(0.5250)" d="M4 -4l1 -1l-1 -1l-1 1l0 1l1 2l1 1l3 1l1 0l1 0l1 0l2 -1l1 -1l1 -1l1 -3l0 -1l0 -1l-1 -3l-1 -1l-1 -1l-2 -1l-1 0l-1 0l-1 0l-3 1l-1 1l-1 1l1 -5l1 -5l1 0l1 0l1 0l1 0l1 0l1 0l1 0l1 0l1 0l1 0l-5 1l-1 0l-1 0l-1 0l-1 0l-1 0M11 -14l3 1l1 1l1 1l1 3l0 1l0 1l-1 3l-1 1l-1 1l-3 1" stroke="#00cc00" stroke-width="2.381"/>
<path class="t" transform="translate(231.65,395.70) scale(0.5250)" d="M2 -21l1 0l1 0l1 0l1 0l1 0l1 0l1 0l1 0l1 0l1 0l1 0l1 0l1 0l1 0l1 0l1 0l0 1l0 1l0 1l0 1l0 1l0 1l-1 -6M2 0l1 0l1 0l1 0l0 -1l0 -1l0 -1l0 -1l0 -1l0 -1l0 -1l0 -1l0 -1l0 -1l0 -1l0 -1l0 -1l0 -1l0 -1l0 -1l0 -1l0 -1l0 -1l0 -1l0 -1M5 0l1 0l0 -1l0 -1l0 -1l0 -1l0 -1l0 -1l0 -1l0 -1l0 -1l0 -1l0 -1l0 -1l0 -1l0 -1l0 -1l0 -1l0 -1l0 -1l0 -1l0 -1l0 -1M6 -11l1 0l1 0l1 0l1 0l1 0l1 0l0 -1l0 -1l0 -1l0 -1M6 0l1 0l1 0l1 0l1 0l1 0l1 0l1 0l1 0l1 0l1 0l1 0l1 -6l0 1l0 1l0 1l0 1l0 1l0 1l-1 0M12 -11l0 1l0 1l0 1l0 1M23 -14l1 0l1 0l1 0l1 0l0 1l0 1l0 1l0 1l0 1l0 1l0 1l0 1l0 1l0 1l0 1l0 1l0 1l0 1l-1 0l0 -1l0 -1l0 -1l0 -1l0 -1l0 -1l0 -1l0 -1l0 -1l0 -1l0 -1l0 -1l0 -1l0 -1M23 0l1 0l1 0l1 0M27 0l1 0l1 0l1 0M34 -14l1 0l1 0l1 0l1 0l0 1l0 1l0 1l1 -1l1 -1l3 -1l1 0l1 0l2 1l1 2l0 1l0 1l0 1l0 1l0 1l0 1l0 1l0 1l0 1l0 1l0 1l-1 0l-1 0l-1 0M34 0l1 0l1 0l1 0l0 -1l0 -1l0 -1l0 -1l0 -1l0 -1l0 -1l0 -1l0 -1l0 -1l0 -1l0 -1l0 -1l0 -1M37 0l1 0l0 -1l0 -1l0 -1l0 -1l0 -1l0 -1l0 -1l0 -1l0 -1l0 -1l0 -1M38 0l1 0l1 0l1 0M45 -14l3 1l1 2l0 1l0 1l0 1l0 1l0 1l0 1l0 1l0 1l0 1l0 1l0 1l-1 0M49 0l1 0l1 0l1 0M59 -12l0 1l-1 0l0 -1l1 -1l2 -1l1 0l1 0l1 0l1 0l2 1l1 1l0 1l0 1l-1 1l-6 1l-3 1l-1 2l0 1l0 1l1 2l3 1l-2 -1l-1 -2l0 -1l0 -1l1 -2l2 -1M61 0l1 0l1 0l1 0l2 -1l1 -1l1 -1l0 -1l0 -1l0 -1l0 -1l0 -1l0 -1l0 -1M68 -12l1 2l0 1l0 1l0 1l0 1l0 1l0 1l0 1l1 2l1 1l-2 -1l-1 -2M71 0l1 0M77 -11l0 -1l1 -1l2 -1l1 0l1 0l1 0l1 0l2 1l1 1l1 -2l0 1l0 1l0 1l0 1l-1 -2M77 -11l0 1l1 1l2 1l5 2l2 1l1 1l0 -1l-1 -1l-2 -1l-5 -2l-2 -1l-1 -1M78 -2l-1 -2l0 1l0 1l0 1l0 1l1 -2l1 1l2 1l1 0l1 0l1 0l1 0l2 -1l1 -1l0 -1l0 -1M93 -14l1 0l1 0l1 0l0 -1l0 -1l0 -1l0 -1l0 -1l0 -1l0 -1M97 -21l0 1l0 1l0 1l0 1l0 1l0 1l0 1l-1 0l0 1l0 1l0 1l0 1l0 1l0 1l0 1l0 1l0 1l0 1l1 3l2 1l-1 -1l-1 -3l0 -1l0 -1l0 -1l0 -1l0 -1l0 -1l0 -1l0 -1l0 -1l0 -1l1 0l1 0l1 0l1 0M99 0l1 0l1 0l2 -1l1 -2M115 -14l1 0l1 0l2 1l1 1l1 1l1 3l0 1l0 1l-1 3l-1 1l-1 1l-2 1l3 -1l1 -1l1 -1l1 -3l0 -1l0 -1l-1 -3l-1 -1l-1 -1l-3 -1M115 -14l-3 1l-1 1l-1 1l-1 3l0 1l0 1l1 3l1 1l1 1l3 1l-2 -1l-1 -1l-1 -1l-1 -3l0 -1l0 -1l1 -3l1 -1l1 -1l2 -1M115 0l1 0l1 0M25 -20l1 -1l1 1l-1 1l-1 -1" stroke="#0000ff" stroke-width="2.381"/>
<path class="t" transform="matrix(0.4987,0,-0.1050,0.5250,304.46,395.70)" d="M2 -14l1 0l1 0l1 0l1 0l0 1l0 1l0 1l1 -1l1 -1l3 -1l1 0l1 0l2 1l1 2l0 1l0 1l0 1l0 1l0 1l0 1l0 1l0 1l0 1l0 1l0 1l-1 0l-1 0l-1 0M2 0l1 0l1 0l1 0l0 -1l0 -1l0 -1l0 -1l0 -1l0 -1l0 -1l0 -1l0 -1l0 -1l0 -1l0 -1l0 -1l0 -1M5 0l1 0l0 -1l0 -1l0 -1l0 -1l0 -1l0 -1l0 -1l0 -1l0 -1l0 -1l0 -1M6 0l1 0l1 0l1 0M13 -14l3 1l1 2l1 -1l1 -1l3 -1l1 0l1 0l2 1l1 2l0 1l0 1l0 1l0 1l0 1l0 1l0 1l0 1l0 1l0 1l0 1l-1 0l-1 0l-1 0M16 0l1 0l0 -1l0 -1l0 -1l0 -1l0 -1l0 -1l0 -1l0 -1l0 -1l0 -1l0 -1M17 0l1 0l1 0l1 0M24 -14l3 1l1 2l0 1l0 1l0 1l0 1l0 1l0 1l0 1l0 1l0 1l0 1l0 1l-1 0M28 0l1 0l1 0l1 0" stroke="#0000ff" stroke-width="2.381"/>
<path class="t" transform="translate(326.40,395.70) scale(0.5250)" d="M0 -12l16 0M0 -6l16 0" stroke="#0000ff" stroke-width="2.381"/>
<path class="t" transform="translate(337.65,395.70) scale(0.5250)" d="M4 -7l1 -3l1 -1l1 -1l3 -1l1 0l2 1l1 1l1 1l1 3l0 1l-1 3l-1 1l-1 1l-2 1l3 -1l1 -1l1 -1l1 -3l0 -1l-1 -3l-1 -1l-1 -1l-3 -1M4 -7l0 -1l0 -1l0 -1l0 -1l0 -1l1 -4l1 -2l1 -1l1 -1l2 -1l1 0l1 0l1 0l2 1l1 2l0 1l-1 1l-1 -1l1 -1M4 -7l0 1l1 3l1 1l1 1l2 1l-3 -1l-1 -1l-1 -1l-1 -3l0 -1l0 -1l0 -1l0 -1l0 -1l0 -1l1 -4l1 -2l1 -1l1 -1l3 -1M9 0l1 0l1 0" stroke="#0000ff" stroke-width="2.381"/>
<path class="t" transform="translate(15.60,341.60) rotate(-90) scale(0.5250)" d="M1 -21l8 10l-8 11M0 -21l8 10M0 -21l14 0l1 6M13 -21l2 6M0 0l14 0l1 -6M13 0l2 -6" stroke="#000" stroke-width="2.381"/>
<path class="t" transform="translate(21.00,331.55) rotate(-90) scale(0.3150)" d="M9 -14l1 0l1 0l1 0l2 1l1 1l1 1l0 1l-1 1l-1 -1l1 -1M9 -14l-3 1l-1 1l-1 1l-1 3l0 1l0 1l1 3l1 1l1 1l3 1l-2 -1l-1 -1l-1 -1l-1 -3l0 -1l0 -1l1 -3l1 -1l1 -1l2 -1M9 0l1 0l1 0l3 -1l1 -1l1 -1M21 -14l1 0l1 0l1 0l1 0l0 1l0 1l0 1l0 1l0 1l0 1l1 -3l1 -1l1 -1l2 -1l1 0l1 0l1 0l1 1l0 1l-1 1l-1 -1l1 -1M21 0l1 0l1 0l1 0l0 -1l0 -1l0 -1l0 -1l0 -1l0 -1l0 -1l0 -1l0 -1l0 -1l0 -1l0 -1l0 -1l0 -1M24 0l1 0l0 -1l0 -1l0 -1l0 -1l0 -1l0 -1l0 -1l0 -1M25 0l1 0l1 0l1 0M38 -14l1 0l1 0l1 0l1 0l0 1l0 1l0 1l0 1l0 1l0 1l0 1l0 1l0 1l0 1l0 1l0 1l0 1l0 1l-1 0l0 -1l0 -1l0 -1l0 -1l0 -1l0 -1l0 -1l0 -1l0 -1l0 -1l0 -1l0 -1l0 -1l0 -1M38 0l1 0l1 0l1 0M42 0l1 0l1 0l1 0M49 -14l1 0l1 0l1 0l0 -1l0 -1l0 -1l0 -1l0 -1l0 -1l0 -1M53 -21l0 1l0 1l0 1l0 1l0 1l0 1l0 1l-1 0l0 1l0 1l0 1l0 1l0 1l0 1l0 1l0 1l0 1l0 1l1 3l2 1l-1 -1l-1 -3l0 -1l0 -1l0 -1l0 -1l0 -1l0 -1l0 -1l0 -1l0 -1l0 -1l1 0l1 0l1 0l1 0M55 0l1 0l1 0l2 -1l1 -2M40 -20l1 -1l1 1l-1 1l-1 -1" stroke="#000" stroke-width="3.968"/>
<path class="t" transform="translate(15.60,306.70) rotate(-90) scale(0.5250)" d="M0 -11l1 -2l2 -1l2 0l2 1l1 2l1 4l0 5l-1 5l-1 4M16 -14l-1 3l-2 4l-3 5l-2 5" stroke="#000" stroke-width="2.381"/>
<path class="t" transform="translate(21.00,297.73) rotate(-90) scale(0.3150)" d="M2 -14l1 0l1 0l1 0l0 -1l0 -1l0 -1l0 -1l0 -1l0 -1l0 -1M6 -21l0 1l0 1l0 1l0 1l0 1l0 1l0 1l-1 0l0 1l0 1l0 1l0 1l0 1l0 1l0 1l0 1l0 1l0 1l1 3l2 1l-1 -1l-1 -3l0 -1l0 -1l0 -1l0 -1l0 -1l0 -1l0 -1l0 -1l0 -1l0 -1l1 0l1 0l1 0l1 0M8 0l1 0l1 0l2 -1l1 -2" stroke="#000" stroke-width="3.968"/>
<path class="t" transform="translate(15.60,293.30) rotate(-90) scale(0.5250)" d="M9 -23l1 -1l1 -1M9 -23l-1 2l-1 2l-1 3l-1 5l0 1l0 1l0 1l0 1l1 5l1 3l1 2l1 2l-2 -3l-1 -2l-1 -2l-1 -5l0 -1l0 -1l0 -1l0 -1l1 -5l1 -2l1 -2l2 -3M9 5l1 1l1 1" stroke="#000" stroke-width="2.381"/>
<path class="t" transform="translate(15.60,286.40) rotate(-90) scale(0.5250)" d="M0 0l1 0l1 0l1 0l2 -7l2 -7l2 -7l-1 0l-1 0l-1 0M3 0l1 0l2 -7l2 -7l2 -7l-1 0M4 0l1 0l1 0l1 0M7 -11l1 0l1 0l1 0l1 0l1 0l1 0l1 0l1 0l1 0l2 -1l1 -1l1 -3l0 -1l0 -1l-1 -2l-2 -1l-1 0l-1 0l-1 0l-1 0l-1 0l-1 0l-1 0M12 -11l2 1l1 1l2 7l1 1l1 0l1 -1l0 -1M15 -9l1 8l1 1l1 0l1 0l1 -2M16 -11l3 -1l1 -1l1 -3l0 -1l0 -1l-1 -2l-3 -1" stroke="#000" stroke-width="2.381"/>
<path class="t" transform="translate(15.60,274.27) rotate(-90) scale(0.5250)" d="M3 -25l1 1l1 1l1 2l1 2l1 3l1 5l0 1l0 1l0 1l0 1l-1 5l-1 3l-1 2l-1 2l2 -3l1 -2l1 -2l1 -5l0 -1l0 -1l0 -1l0 -1l-1 -5l-1 -2l-1 -2l-2 -3M3 7l1 -1l1 -1" stroke="#000" stroke-width="2.381"/>
<path class="t" transform="translate(15.60,262.10) rotate(-90) scale(0.5250)" d="M2 7l14 -25l4 -7l-5 9l1 -2l-5 9l9 -16l-13 23l9 -16M2 7l13 -23l-4 7l-4 7l-1 2l14 -25M2 7l9 -16l-5 9l9 -16M2 7l5 -9M2 7l4 -7" stroke="#000" stroke-width="2.381"/>
<path class="t" transform="translate(15.60,246.60) rotate(-90) scale(0.5250)" d="M5 -25l-1 0l0 1l0 1l0 1l0 1l0 1l0 1l0 1l0 1l0 1l0 1l0 1l0 1l0 1l0 1l0 1l0 1l0 1l0 1l0 1l0 1l0 1l0 1l0 1l0 1l0 1l0 1l0 1l0 1l0 1l0 1l0 1l0 1l1 0l0 -1l0 -1l0 -1l0 -1l0 -1l0 -1l0 -1l0 -1l0 -1l0 -1l0 -1l0 -1l0 -1l0 -1l0 -1l0 -1l0 -1l0 -1l0 -1l0 -1l0 -1l0 -1l0 -1l0 -1l0 -1l0 -1l0 -1l0 -1l0 -1l0 -1l0 -1l0 -1l1 0l1 0l1 0l1 0l1 0l1 0M5 7l1 0l1 0l1 0l1 0l1 0l1 0" stroke="#000" stroke-width="2.381"/>
<path class="t" transform="translate(15.60,240.40) rotate(-90) scale(0.5250)" d="M0 0l1 0l1 0l1 0l2 -7l2 -7l2 -7l-1 0l-1 0l-1 0M3 0l1 0l1 0l1 0M9 -21l1 0l0 1M9 -21l0 1M9 -21l1 21l13 -21l1 0l1 0l1 0l1 0M10 -21l1 19l0 -1M10 -1l0 1l8 -13l5 -8l-2 7l-2 7l-2 7l-1 0l-1 0l-1 0M10 0l5 -8l8 -13M15 -8l3 -5M17 0l1 0l2 -7l2 -7l2 -7M18 0l1 0l1 0l1 0" stroke="#000" stroke-width="2.381"/>
<path class="t" transform="translate(15.60,226.00) rotate(-90) scale(0.5250)" d="M9 -23l1 -1l1 -1M9 -23l-1 2l-1 2l-1 3l-1 5l0 1l0 1l0 1l0 1l1 5l1 3l1 2l1 2l-2 -3l-1 -2l-1 -2l-1 -5l0 -1l0 -1l0 -1l0 -1l1 -5l1 -2l1 -2l2 -3M9 5l1 1l1 1" stroke="#000" stroke-width="2.381"/>
<path class="t" transform="translate(15.60,218.55) rotate(-90) scale(0.5250)" d="M2 -14l1 0l1 0l1 0l1 0l0 1l0 1l0 1l0 1l0 1l0 1l1 -3l1 -1l1 -1l2 -1l1 0l1 0l1 0l1 1l0 1l-1 1l-1 -1l1 -1M2 0l1 0l1 0l1 0l0 -1l0 -1l0 -1l0 -1l0 -1l0 -1l0 -1l0 -1l0 -1l0 -1l0 -1l0 -1l0 -1l0 -1M5 0l1 0l0 -1l0 -1l0 -1l0 -1l0 -1l0 -1l0 -1l0 -1M6 0l1 0l1 0l1 0" stroke="#000" stroke-width="2.381"/>
<path class="t" transform="translate(21.00,209.06) rotate(-90) scale(0.3150)" d="M4 -9l1 0l1 0l1 0l1 0l1 0l1 0l1 0l1 0l1 0l1 0l1 0l1 0l1 0l1 0l1 0l1 0l1 0l1 0M29 -2l0 -1l1 -3l1 -1l1 -1l2 -1l5 -2l3 -2l1 -2l0 -1l0 -1l-1 -2l-1 -1l-3 -1l-1 0l-1 0l-1 0l-1 0l-3 1l-1 1l-1 2l0 1l1 1l1 -1l-1 -1M29 -2l1 -1l1 0l1 0l5 2l1 0l1 0l1 0l2 -1l1 -1l0 -1l0 -1M29 -2l0 1l0 1M32 -3l5 3l1 0l1 0l1 0l1 0l1 -1l1 -2M34 -9l2 -1l2 -1l3 -2l1 -2l0 -1l0 -1l-1 -2l-1 -1l-2 -1" stroke="#000" stroke-width="3.968"/>
<path class="t" transform="translate(15.60,194.38) rotate(-90) scale(0.5250)" d="M3 -25l1 1l1 1l1 2l1 2l1 3l1 5l0 1l0 1l0 1l0 1l-1 5l-1 3l-1 2l-1 2l2 -3l1 -2l1 -2l1 -5l0 -1l0 -1l0 -1l0 -1l-1 -5l-1 -2l-1 -2l-2 -3M3 7l1 -1l1 -1" stroke="#000" stroke-width="2.381"/>
<path class="t" transform="translate(15.60,187.25) rotate(-90) scale(0.5250)" d="M2 7l14 -25l4 -7l-5 9l1 -2l-5 9l9 -16l-13 23l9 -16M2 7l13 -23l-4 7l-4 7l-1 2l14 -25M2 7l9 -16l-5 9l9 -16M2 7l5 -9M2 7l4 -7" stroke="#000" stroke-width="2.381"/>
<path class="t" transform="translate(15.60,175.95) rotate(-90) scale(0.5250)" d="M2 -14l1 0l1 0l1 0l1 0l0 1l0 1l0 1l0 1l0 1l0 1l1 -3l1 -1l1 -1l2 -1l1 0l1 0l1 0l1 1l0 1l-1 1l-1 -1l1 -1M2 0l1 0l1 0l1 0l0 -1l0 -1l0 -1l0 -1l0 -1l0 -1l0 -1l0 -1l0 -1l0 -1l0 -1l0 -1l0 -1l0 -1M5 0l1 0l0 -1l0 -1l0 -1l0 -1l0 -1l0 -1l0 -1l0 -1M6 0l1 0l1 0l1 0" stroke="#000" stroke-width="2.381"/>
<path class="t" transform="translate(10.50,167.75) rotate(-90) scale(0.3150)" d="M3 -2l0 -1l1 -3l1 -1l1 -1l2 -1l5 -2l3 -2l1 -2l0 -1l0 -1l-1 -2l-1 -1l-3 -1l-1 0l-1 0l-1 0l-1 0l-3 1l-1 1l-1 2l0 1l1 1l1 -1l-1 -1M3 -2l1 -1l1 0l1 0l5 2l1 0l1 0l1 0l2 -1l1 -1l0 -1l0 -1M3 -2l0 1l0 1M6 -3l5 3l1 0l1 0l1 0l1 0l1 -1l1 -2M8 -9l2 -1l2 -1l3 -2l1 -2l0 -1l0 -1l-1 -2l-1 -1l-2 -1" stroke="#000" stroke-width="3.968"/>
<path class="t" transform="translate(21.00,166.56) rotate(-90) scale(0.3150)" d="M4 -9l1 0l1 0l1 0l1 0l1 0l1 0l1 0l1 0l1 0l1 0l1 0l1 0l1 0l1 0l1 0l1 0l1 0l1 0M29 -2l0 -1l1 -3l1 -1l1 -1l2 -1l5 -2l3 -2l1 -2l0 -1l0 -1l-1 -2l-1 -1l-3 -1l-1 0l-1 0l-1 0l-1 0l-3 1l-1 1l-1 2l0 1l1 1l1 -1l-1 -1M29 -2l1 -1l1 0l1 0l5 2l1 0l1 0l1 0l2 -1l1 -1l0 -1l0 -1M29 -2l0 1l0 1M32 -3l5 3l1 0l1 0l1 0l1 0l1 -1l1 -2M34 -9l2 -1l2 -1l3 -2l1 -2l0 -1l0 -1l-1 -2l-1 -1l-2 -1" stroke="#000" stroke-width="3.968"/>
<path class="t" transform="translate(15.60,152.07) rotate(-90) scale(0.5250)" d="M3 -25l1 0l1 0l1 0l1 0l1 0l1 0l1 0l0 1l0 1l0 1l0 1l0 1l0 1l0 1l0 1l0 1l0 1l0 1l0 1l0 1l0 1l0 1l0 1l0 1l0 1l0 1l0 1l0 1l0 1l0 1l0 1l0 1l0 1l0 1l0 1l0 1l0 1l0 1l0 1l-1 0l0 -1l0 -1l0 -1l0 -1l0 -1l0 -1l0 -1l0 -1l0 -1l0 -1l0 -1l0 -1l0 -1l0 -1l0 -1l0 -1l0 -1l0 -1l0 -1l0 -1l0 -1l0 -1l0 -1l0 -1l0 -1l0 -1l0 -1l0 -1l0 -1l0 -1l0 -1l0 -1M3 7l1 0l1 0l1 0l1 0l1 0l1 0" stroke="#000" stroke-width="2.381"/>
</svg>
</body></html>
